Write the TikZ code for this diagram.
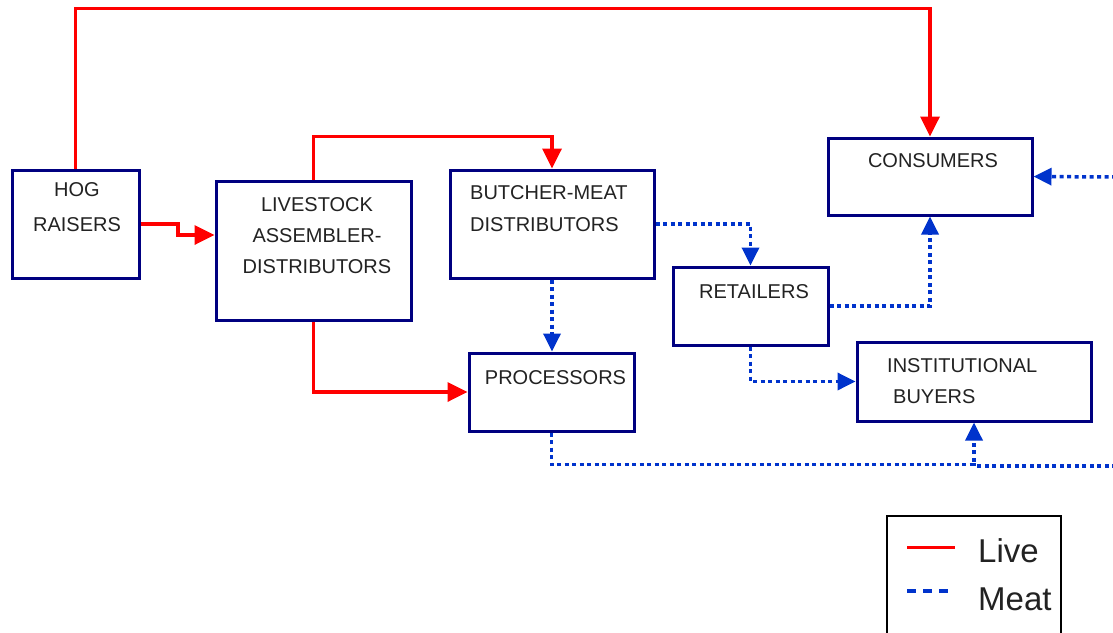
\documentclass[tikz,border=0pt]{standalone}
\usepackage{fontspec}
\setmainfont{Liberation Sans}
\usetikzlibrary{arrows.meta}
\definecolor{boxnavy}{RGB}{0,0,128}
\definecolor{liveRed}{RGB}{255,0,0}
\definecolor{meatBlue}{RGB}{0,51,204}
\definecolor{txt}{RGB}{34,34,34}
\begin{document}
\begin{tikzpicture}[x=1pt,y=-1pt,
  box/.style={draw=boxnavy,line width=3pt,rectangle,inner sep=0pt},
  lbl/.style={text=txt,inner sep=0pt,font=\fontsize{20}{31}\selectfont},
  liveline/.style={draw=liveRed,line width=3.5pt,line join=miter},
  livearrow/.style={liveline,-{Triangle[length=20pt,width=19pt]}},
  meatline/.style={draw=meatBlue,line width=3.5pt,dash pattern=on 4pt off 3.5pt},
  meatarrow/.style={meatline,-{Triangle[length=18pt,width=17pt]}},
  legtxt/.style={text=txt,inner sep=0pt,anchor=west,font=\fontsize{33}{36}\selectfont}]
\useasboundingbox (0,0) rectangle (1113,632);
\fill[white] (0,0) rectangle (1113,632);

% boxes
\node[box,minimum width=127pt,minimum height=108pt] (hog) at (75.5,224) {};
\node[box,minimum width=195pt,minimum height=139pt] (live) at (313.5,250.5) {};
\node[box,minimum width=204pt,minimum height=108pt] (butch) at (552,224) {};
\node[box,minimum width=204pt,minimum height=77pt] (cons) at (930,176.5) {};
\node[box,minimum width=155pt,minimum height=78pt] (ret) at (750.5,306) {};
\node[box,minimum width=165pt,minimum height=78pt] (proc) at (551.5,392) {};
\node[box,minimum width=234pt,minimum height=79pt] (inst) at (974,381.5) {};

% labels
\node[lbl,align=center,font=\fontsize{20}{35}\selectfont] (thog) at (77,207.5) {HOG\\RAISERS};
\node[lbl,align=center] (tlive) at (317,235.5) {LIVESTOCK\\ASSEMBLER-\\DISTRIBUTORS};
\node[lbl,align=left,anchor=west,font=\fontsize{20}{32}\selectfont] (tbutch) at (470,209) {BUTCHER-MEAT\\DISTRIBUTORS};
\node[lbl] (tcons) at (933,161) {CONSUMERS};
\node[lbl] (tret) at (754,292) {RETAILERS};
\node[lbl] (tproc) at (555.5,378) {PROCESSORS};
\node[lbl,anchor=west] (tinst1) at (887,366) {INSTITUTIONAL};
\node[lbl,anchor=west] (tinst2) at (893,397) {BUYERS};

% live connectors
\draw[livearrow] (hog.north) -- ++(0,-160) -| (cons.north);
\coordinate (hj) at (178,224);
\draw[livearrow] (hog.east) -- (hj) -- ++(0,11) -- (live.west |- 0,235);
\draw[livearrow] (live.north) -- ++(0,-43) -| (butch.north);
\draw[livearrow] (live.south) |- (proc.west);

% meat connectors
\draw[meatarrow] (butch.east) -| (ret.north);
\draw[meatarrow] (butch.south) -- (butch.south |- proc.north);
\draw[meatarrow] (ret.east) -| (cons.south);
\draw[meatarrow] (ret.south) |- (inst.west);
\draw[meatarrow] (proc.south) -- ++(0,32) -| (inst.south);
\coordinate (e1) at (1116,466);
\draw[meatline] (e1) -- (inst.south |- e1) -- ++(0,-3);
\coordinate (e2) at (1116,177);
\draw[meatarrow] (e2) -- (cons.east);

% legend
\draw[black,line width=2.5pt] (887,640) -- (887,516) -- (1061,516) -- (1061,640);
\coordinate (l1a) at (907,547);
\coordinate (l1b) at (955,547);
\draw[liveRed,line width=3pt] (l1a) -- (l1b);
\node[legtxt] (tlivel) at (978,551) {Live};
\coordinate (l2a) at (907,591);
\coordinate (l2b) at (952,591);
\draw[meatBlue,line width=3.5pt,dash pattern=on 9pt off 7pt] (l2a) -- (l2b);
\node[legtxt] (tmeat) at (978,599) {Meat};
\end{tikzpicture}
\end{document}
